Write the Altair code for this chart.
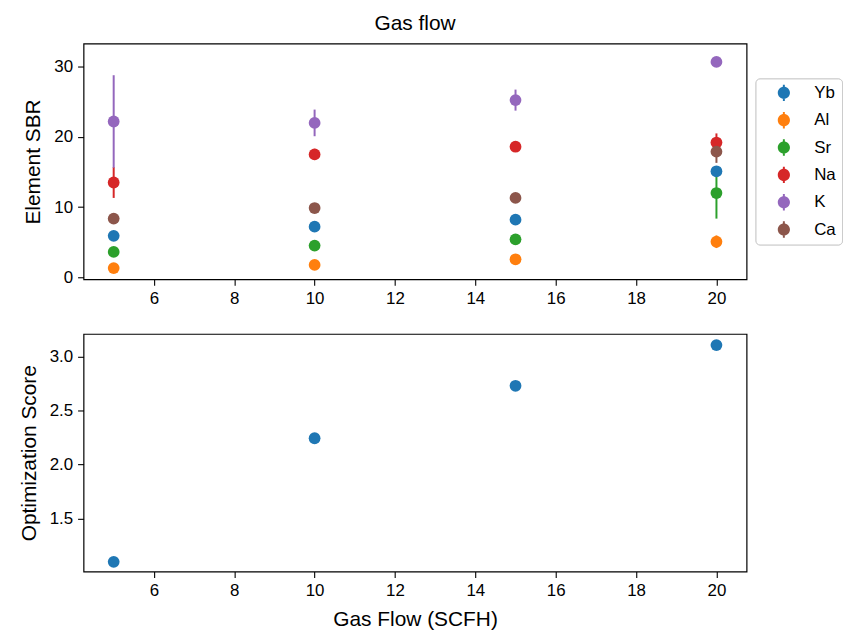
import altair as alt
import pandas as pd

flows = [5, 10, 15, 20]
elements = ["Yb", "Al", "Sr", "Na", "K", "Ca"]
colors = ["#1f77b4", "#ff7f0e", "#2ca02c", "#d62728", "#9467bd", "#8c564b"]

sbr_mean = {
    "Yb": [5.9, 7.2, 8.2, 15.1],
    "Al": [1.3, 1.75, 2.55, 5.05],
    "Sr": [3.6, 4.5, 5.4, 12.0],
    "Na": [13.5, 17.5, 18.6, 19.2],
    "K": [22.2, 22.0, 25.25, 30.7],
    "Ca": [8.35, 9.86, 11.3, 17.9],
}
sbr_err = {
    "Yb": [0.3, 0.5, 0.3, 0.4],
    "Al": [0.2, 0.2, 0.2, 0.9],
    "Sr": [0.2, 0.3, 0.2, 3.65],
    "Na": [2.2, 0.8, 0.4, 1.3],
    "K": [6.6, 1.9, 1.5, 0.6],
    "Ca": [0.3, 0.3, 0.4, 1.6],
}
opt_score = [1.10, 2.244, 2.73, 3.107]

rows = []
for i, el in enumerate(elements):
    for j, f in enumerate(flows):
        m = sbr_mean[el][j]
        e = sbr_err[el][j]
        rows.append({"flow": f, "element": el, "order": i, "sbr": m,
                     "lo": m - e, "hi": m + e})
df = pd.DataFrame(rows)
df_opt = pd.DataFrame({"flow": flows, "score": opt_score})

FONT = "Liberation Sans"
xticks = [6, 8, 10, 12, 14, 16, 18, 20]
xscale = alt.Scale(domain=[4.25, 20.75], nice=False, zero=False)

# legend glyph: dot with an error-bar stroke through it
err_dot = ("M1,0A1,1,0,1,1,-1,0A1,1,0,1,1,1,0Z"
           "M-0.16,-1.35L0.16,-1.35L0.16,1.35L-0.16,1.35Z")

color = alt.Color("element:N",
                  scale=alt.Scale(domain=elements, range=colors),
                  sort=elements,
                  legend=alt.Legend(title=None, orient="none", legendX=676, legendY=35,
                                    symbolType=err_dot, symbolSize=150,
                                    symbolStrokeWidth=0, symbolOpacity=1,
                                    labelFontSize=17, labelFont=FONT,
                                    labelOffset=22, symbolOffset=14,
                                    rowPadding=9.5, padding=6,
                                    strokeColor="#cccccc", fillColor="white",
                                    cornerRadius=4))

x_top = alt.X("flow:Q", scale=xscale, title=None,
              axis=alt.Axis(values=xticks))

err = alt.Chart(df).mark_rule(strokeWidth=2).encode(
    x=x_top,
    y=alt.Y("lo:Q"),
    y2="hi:Q",
    color=color,
)
pts = alt.Chart(df).mark_circle(size=140, opacity=1).encode(
    x=x_top,
    y=alt.Y("sbr:Q", scale=alt.Scale(domain=[-0.3, 33.3], nice=False, zero=False),
            title="Element SBR", axis=alt.Axis(values=[0, 10, 20, 30])),
    color=color,
    order="order:Q",
)
top = alt.layer(err, pts).properties(
    width=667, height=237,
    title=alt.Title("Gas flow", fontSize=21, font=FONT, fontWeight="normal",
                    color="black", offset=10),
).resolve_scale(color="independent").resolve_legend(color="independent")

bottom = alt.Chart(df_opt).mark_circle(size=140, opacity=1, color="#1f77b4").encode(
    x=alt.X("flow:Q", scale=xscale, title="Gas Flow (SCFH)",
            axis=alt.Axis(values=xticks)),
    y=alt.Y("score:Q", scale=alt.Scale(domain=[1.01, 3.21], nice=False, zero=False),
            title="Optimization Score",
            axis=alt.Axis(values=[1.5, 2.0, 2.5, 3.0], format=".1f")),
).properties(width=667, height=239)

chart = alt.vconcat(top, bottom, spacing=55, bounds="flush").properties(
    padding={"left": 9, "top": 2, "right": 0, "bottom": 5}
).configure_view(
    stroke="black", strokeWidth=1.2
).configure_axis(
    domain=False, grid=False, ticks=True, tickSize=6, tickWidth=1.1,
    tickColor="black", labelColor="black", labelFontSize=17, labelFont=FONT,
    labelPadding=5, titleFont=FONT, titleFontSize=21, titleFontWeight="normal",
    titleColor="black", titlePadding=10,
)

chart.save("out.html", embed_options={"renderer": "svg", "actions": False})
